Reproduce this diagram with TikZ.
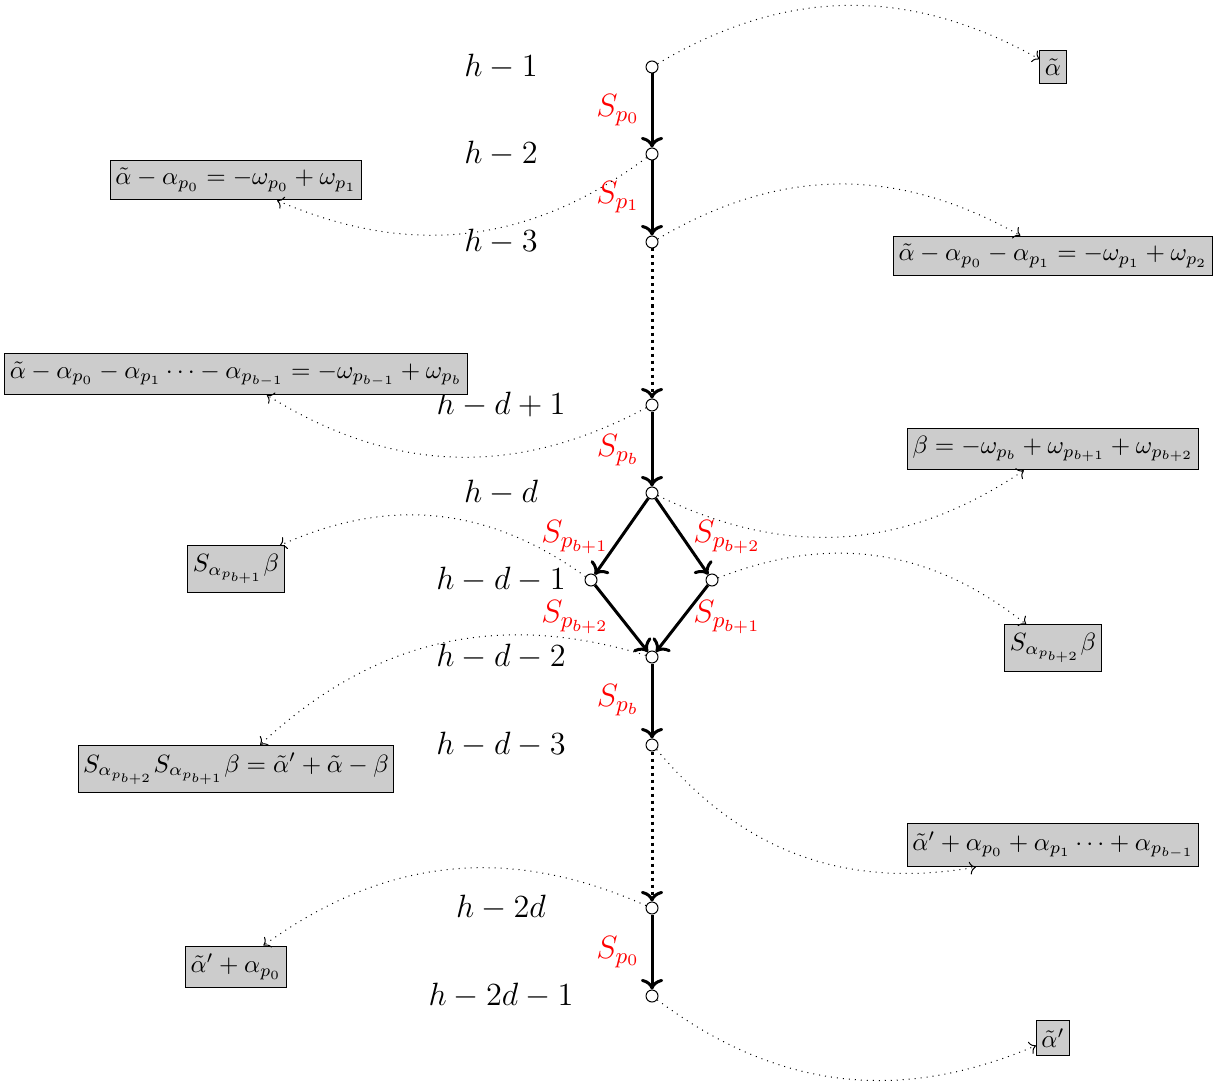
\RequirePackage{fix-cm}
\documentclass[tikz,border=0pt]{standalone}
\usepackage{tikz}
\usetikzlibrary{arrows.meta, positioning, calc}

\begin{document}
\begin{tikzpicture}[
    x=0.4pt, y=-0.4pt,
    vtx/.style={circle, draw, fill=white, inner sep=0pt, minimum size=4.8pt},
    lvl/.style={font=\fontsize{12.9}{15}\selectfont},
    refl/.style={font=\fontsize{12.9}{15}\selectfont, text=red},
    root/.style={draw, fill=black!20, inner xsep=2pt, inner ysep=3.2pt},
    move/.style={very thick, ->},
    movedots/.style={very thick, ->, dash pattern=on 1.2pt off 1.6pt},
    rootlink/.style={dotted, ->}
]
\useasboundingbox (0,0) rectangle (1230,1084);

% levels
\node[lvl] (l0) at (501,67) {$h-1$};
\node[lvl] (l1) at (501,154) {$h-2$};
\node[lvl] (l2) at (501,242) {$h-3$};
\node[lvl] (l3) at (501,405) {$h-d+1$};
\node[lvl] (l4) at (501,493) {$h-d$};
\node[lvl] (l5) at (501,580) {$h-d-1$};
\node[lvl] (l6) at (501,657) {$h-d-2$};
\node[lvl] (l7) at (501,745) {$h-d-3$};
\node[lvl] (l8) at (501,908) {$h-2d$};
\node[lvl] (l9) at (501,996) {$h-2d-1$};

% vertices
\node[vtx] (v0) at (652,67) {};
\node[vtx] (v1) at (652,154) {};
\node[vtx] (v2) at (652,242) {};
\node[vtx] (v3) at (652,405) {};
\node[vtx] (v4) at (652,493) {};
\node[vtx] (vl) at (591,580) {};
\node[vtx] (vr) at (712,580) {};
\node[vtx] (v5) at (652,657) {};
\node[vtx] (v6) at (652,745) {};
\node[vtx] (v7) at (652,908) {};
\node[vtx] (v8) at (652,996) {};

% reflections
\draw[move] (v0) -- (v1);
\draw[move] (v1) -- (v2);
\draw[movedots] (v2) -- (v3);
\draw[move] (v3) -- (v4);
\draw[move] (v4) -- (vl);
\draw[move] (v4) -- (vr);
\draw[move] (vl) -- (v5);
\draw[move] (vr) -- (v5);
\draw[move] (v5) -- (v6);
\draw[movedots] (v6) -- (v7);
\draw[move] (v7) -- (v8);

\node[refl] (s0) at (618,110) {$S_{p_0}$};
\node[refl] (s1) at (618,197) {$S_{p_1}$};
\node[refl] (s2) at (618,450) {$S_{p_b}$};
\node[refl] (s3) at (575,537) {$S_{p_{b+1}}$};
\node[refl] (s4) at (727,537) {$S_{p_{b+2}}$};
\node[refl] (s5) at (575,617) {$S_{p_{b+2}}$};
\node[refl] (s6) at (727,617) {$S_{p_{b+1}}$};
\node[refl] (s7) at (618,700) {$S_{p_b}$};
\node[refl] (s8) at (618,952) {$S_{p_0}$};

% roots
\node[root] (b0) at (1053,67) {$\tilde\alpha$};
\node[root] (b1) at (236,180) {$\tilde\alpha-\alpha_{p_0}=-\omega_{p_0}+\omega_{p_1}$};
\node[root] (b2) at (1053,256) {$\tilde\alpha-\alpha_{p_0}-\alpha_{p_1}=-\omega_{p_1}+\omega_{p_2}$};
\node[root] (b3) at (236,374) {$\tilde\alpha-\alpha_{p_0}-\alpha_{p_1}\cdots-\alpha_{p_{b-1}}=-\omega_{p_{b-1}}+\omega_{p_b}$};
\node[root] (b4) at (1053,449) {$\beta=-\omega_{p_b}+\omega_{p_{b+1}}+\omega_{p_{b+2}}$};
\node[root] (b5) at (236,569) {$S_{\alpha_{p_{b+1}}}\beta$};
\node[root] (b6) at (1053,648) {$S_{\alpha_{p_{b+2}}}\beta$};
\node[root] (b7) at (236,769) {$S_{\alpha_{p_{b+2}}}S_{\alpha_{p_{b+1}}}\beta=\tilde\alpha'+\tilde\alpha-\beta$};
\node[root] (b8) at (1053,845) {$\tilde\alpha'+\alpha_{p_0}+\alpha_{p_1}\cdots+\alpha_{p_{b-1}}$};
\node[root] (b9) at (236,967) {$\tilde\alpha'+\alpha_{p_0}$};
\node[root] (b10) at (1053,1038) {$\tilde\alpha'$};

\draw[rootlink] (v0) to[bend left=30] (b0);
\draw[rootlink] (v1) to[bend left=30] (b1);
\draw[rootlink] (v2) to[bend left=30] (b2);
\draw[rootlink] (v3) to[bend left=30] (b3);
\draw[rootlink] (v4) to[bend right=30] (b4);
\draw[rootlink] (vl) to[bend right=30] (b5);
\draw[rootlink] (vr) to[bend left=30] (b6);
\draw[rootlink] (v5) to[bend right=30] (b7);
\draw[rootlink] (v6) to[bend right=30] (b8);
\draw[rootlink] (v7) to[bend right=30] (b9);
\draw[rootlink] (v8) to[bend right=30] (b10);
\end{tikzpicture}
\end{document}
